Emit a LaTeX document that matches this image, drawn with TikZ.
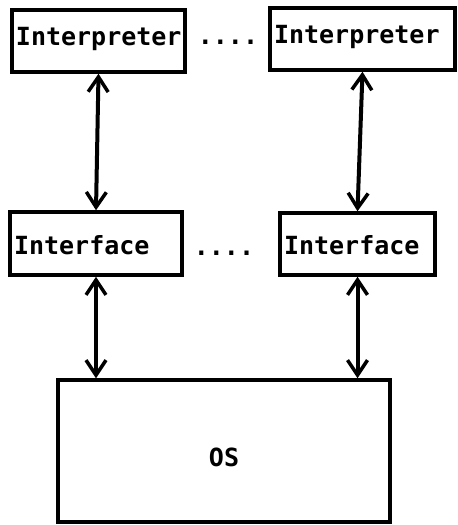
\documentclass[tikz,border=0pt]{standalone}
\usepackage{fontspec}
\setmonofont{DejaVu Sans Mono}
\usetikzlibrary{arrows.meta,calc}
\tikzset{
  box/.style={draw, line width=3.5pt, inner sep=0pt, font=\ttfamily\bfseries\fontsize{25}{29}\selectfont},
  iplbl/.style={text height=17pt, text depth=9pt},
  iflbl/.style={text height=21pt, text depth=0pt},
  lbl/.style={font=\ttfamily\bfseries\fontsize{25}{29}\selectfont, inner sep=0pt},
  barb/.style={Straight Barb[length=15pt,width=20pt,line width=3.5pt]},
  link/.style={line width=4pt, {Straight Barb[length=15pt,width=20pt,line width=3.5pt]}-{Straight Barb[length=15pt,width=20pt,line width=3.5pt]}}
}
\begin{document}
\begin{tikzpicture}[x=1pt,y=-1pt]
\useasboundingbox (0,0) rectangle (458,525);
% top interpreters
\node[box, iplbl, minimum width=173pt, minimum height=62pt, text width=165pt, align=left] (ip1) at (98.5,41) {Interpreter};
\node[box, iplbl, minimum width=185pt, minimum height=62pt, text width=177pt, align=left] (ip2) at (362.5,39) {Interpreter};
\node[lbl, anchor=base] (d1) at (228,44) {....};
% interfaces
\node[box, iflbl, minimum width=172pt, minimum height=63pt, text width=164pt, align=left] (if1) at (96,243.5) {Interface};
\node[box, iflbl, minimum width=155pt, minimum height=62pt, text width=147pt, align=left] (if2) at (357.5,244) {Interface};
\node[lbl, anchor=base] (d2) at (224,255) {....};
% OS
\node[box, text height=30pt, text depth=0pt, minimum width=332pt, minimum height=142pt] (os) at (224,451) {OS};
% connectors
\draw[link] (ip1.south) -- (if1.north);
\draw[link] (ip2.south) -- (if2.north);
\draw[link] (if1.south) -- (if1.south |- os.north);
\draw[link] (if2.south) -- (if2.south |- os.north);
\end{tikzpicture}
\end{document}
